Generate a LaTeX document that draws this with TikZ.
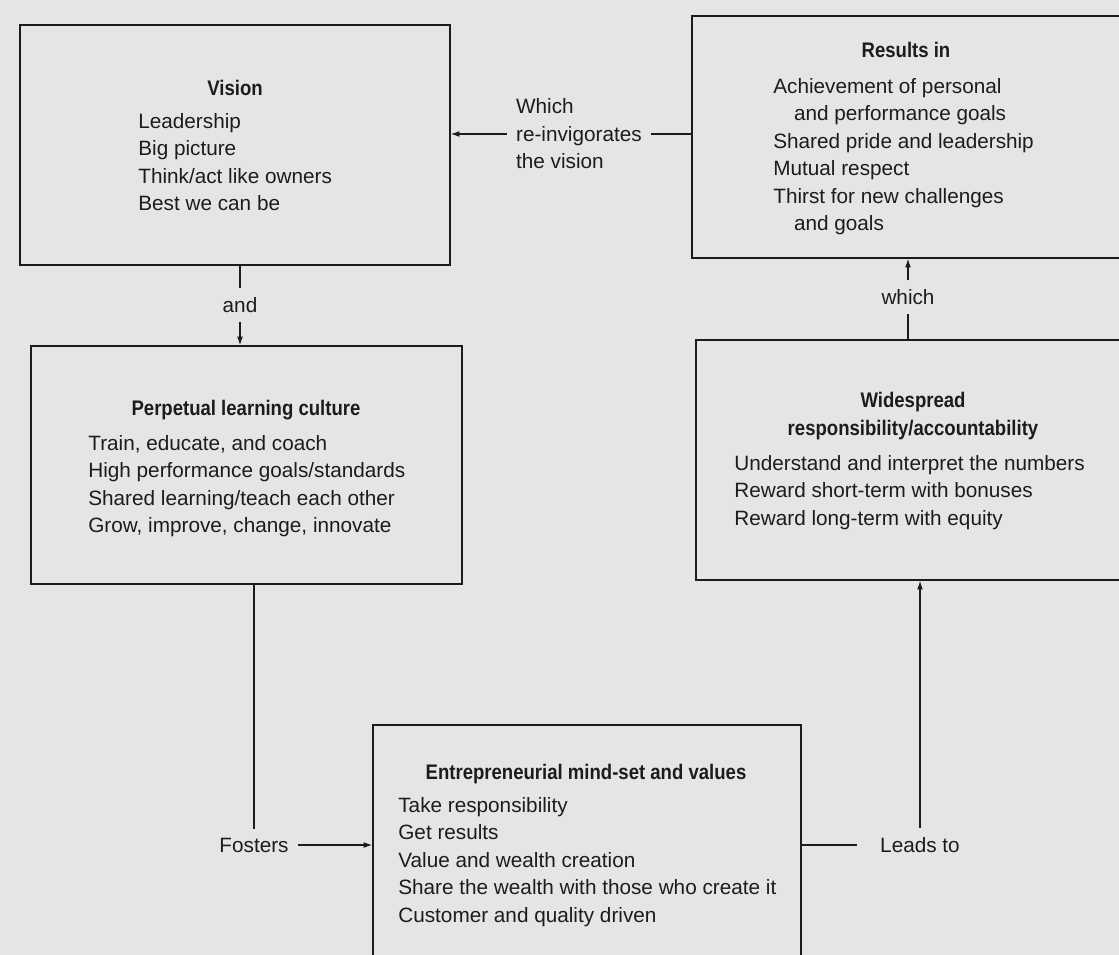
\documentclass[tikz,border=0pt]{standalone}
\usepackage{fontspec}
\setmainfont{Liberation Sans}
\newfontfamily\titlefont[FakeStretch=0.88]{Liberation Sans}
\usetikzlibrary{arrows.meta, fit}

\definecolor{paper}{RGB}{229,229,227}
\definecolor{ink}{RGB}{28,28,28}

\tikzset{
  boxframe/.style={draw=ink, line width=0.8pt, inner sep=0pt},
  heading/.style={font=\titlefont\bfseries\fontsize{12}{15.65}\selectfont, text=ink,
    anchor=north, align=center, inner sep=0pt},
  items/.style={font=\fontsize{11.8}{15.65}\selectfont, text=ink,
    anchor=north west, align=left, inner sep=0pt},
  tag/.style={font=\fontsize{11.8}{15.65}\selectfont, text=ink, align=left, inner sep=5pt},
  link/.style={draw=ink, line width=0.7pt},
  linkarrow/.style={link, -{Latex[length=5pt, width=3.4pt]}}
}

\begin{document}
\begin{tikzpicture}[x=0.02cm, y=-0.02cm]

    \useasboundingbox (0,0) rectangle (1119,955);
    \clip (0,0) rectangle (1119,955);
    \fill[paper] (0,0) rectangle (1119,955);

    % boxes
    \node[boxframe, fit={(20,25) (450,265)}] (vision) {};
    \node[boxframe, fit={(692,16) (1130,258)}] (results) {};
    \node[boxframe, fit={(31,346) (462,584)}] (learning) {};
    \node[boxframe, fit={(696,340) (1130,580)}] (spread) {};
    \node[boxframe, fit={(373,725) (801,990)}] (mindset) {};

    % headings
    \node[heading] (visionhead) at (235,80) {Vision};
    \node[heading] (resultshead) at (906,42) {Results in};
    \node[heading] (learninghead) at (246,400) {Perpetual learning culture};
    \node[heading] (spreadhead) at (913,392) {Widespread\\responsibility/accountability};
    \node[heading] (mindsethead) at (586,764) {Entrepreneurial mind-set and values};

    % box contents
    \node[items] (visionlist) at (138,113)
        {Leadership\\Big picture\\Think/act like owners\\Best we can be};
    \node[items] (resultslist) at (773,78)
        {Achievement of personal\\\hspace*{1em}and performance goals\\Shared pride and leadership\\
         Mutual respect\\Thirst for new challenges\\\hspace*{1em}and goals};
    \node[items] (learninglist) at (88,435)
        {Train, educate, and coach\\High performance goals/standards\\
         Shared learning/teach each other\\Grow, improve, change, innovate};
    \node[items] (spreadlist) at (734,455)
        {Understand and interpret the numbers\\Reward short-term with bonuses\\
         Reward long-term with equity};
    \node[items] (mindsetlist) at (398,797)
        {Take responsibility\\Get results\\Value and wealth creation\\
         Share the wealth with those who create it\\Customer and quality driven};

    % connector labels
    \node[tag, anchor=west] (reinvig) at (507,134) {Which\\re-invigorates\\the vision};
    \node[tag] (andtag) at (240,305) {and};
    \node[tag] (whichtag) at (908,297) {which};
    \node[tag] (fosters) at (254,845) {Fosters};
    \node[tag, inner xsep=13pt] (leads) at (920,845) {Leads to};

    % connectors
    \draw[link] (reinvig.east -| results.west) -- (reinvig.east);
    \draw[linkarrow] (reinvig.west) -- (reinvig.west -| vision.east);
    \draw[link] (andtag.north |- vision.south) -- (andtag.north);
    \draw[linkarrow] (andtag.south) -- (andtag.south |- learning.north);
    \draw[link] (whichtag.south |- spread.north) -- (whichtag.south);
    \draw[linkarrow] (whichtag.north) -- (whichtag.north |- results.south);
    \draw[link] (fosters.north |- learning.south) -- (fosters.north);
    \draw[linkarrow] (fosters.east) -- (fosters.east -| mindset.west);
    \draw[link] (leads.west -| mindset.east) -- (leads.west);
    \draw[linkarrow] (leads.north) -- (leads.north |- spread.south);

\end{tikzpicture}
\end{document}
